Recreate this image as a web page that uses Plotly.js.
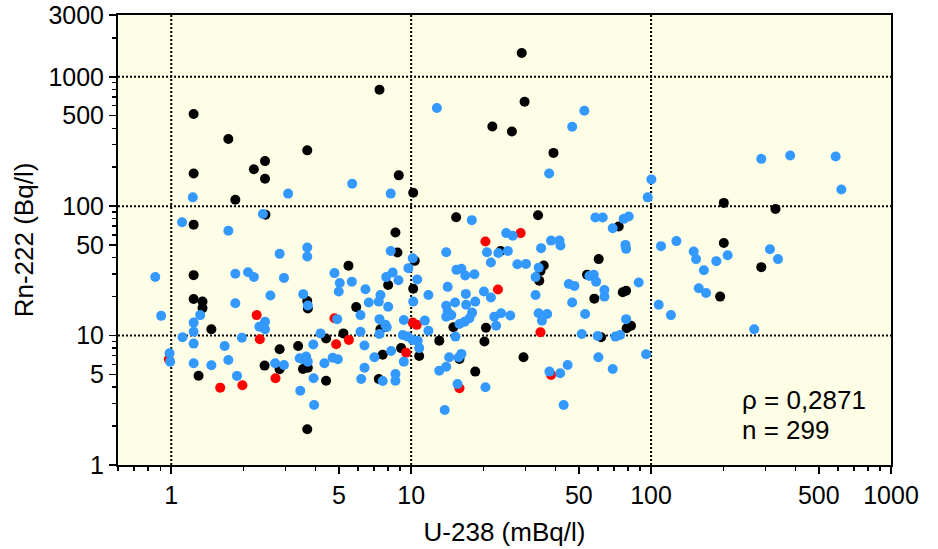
<!DOCTYPE html>
<html>
<head>
<meta charset="utf-8">
<script src="https://cdn.plot.ly/plotly-3.0.1.min.js"></script>
<style>
  html, body { margin: 0; padding: 0; background: #ffffff; }
  #chart { width: 938px; height: 549px; }
</style>
</head>
<body>
<div id="chart"></div>
<script>
// U-238 (mBq/l) vs Rn-222 (Bq/l), three groups of samples
const blackU238 = [1.24,1.73,3.69,2.46,2.21,1.24,2.46,28.9,7.38,29.7,21.8,26.3,39.2,8.88,10.2,
  1.85,2.47,1.24,1.24,1.24,
  15.4,8.6,8.77,10.35,5.48,8.02,10.2,
  33.8,73.3,23.6,60.5,35.7,34.6,34.2,54.1,76.2,78.7,58,
  201,330,201,288,194,
  1.35,1.35,3.69,3.71,1.47,2.83,3.38,2.45,2.83,3.54,3.71,1.3,
  5.9,7.45,15,4.42,5.22,9.08,10.8,7.61,13.1,15.9,18.5,4.42,7.33,
  20.5,82.5,79.1,20.2,61.9,29.4,
  3.69];
const blackRn222 = [515,330,270,223,193,179,163,1525,793,641,413,378,258,173,127,
  112,86,72,29.3,19.2,
  82,62.5,43.8,37.8,34.6,24.6,23,
  85,69.6,45.1,39,34.8,31.6,26.5,29.5,21.6,22.2,19.3,
  106,95,52,33.8,20,
  18.3,16.3,18.5,16.2,11.2,7.85,8.3,5.86,5.5,5.52,5.65,4.9,
  16.6,11.2,11.6,9.5,10.4,8.0,6.96,7.1,9.14,6.6,5.27,4.48,4.62,
  11.5,11.9,11.4,9.0,9.7,6.8,
  1.89];

const redU238 = [20.4,28.6,23,2.27,2.34,0.977,2.72,1.6,1.98,4.79,10.15,10.55,5.5,4.87,9.53,15.9,34.6,38.3];
const redRn222 = [53.3,61.9,22.7,14.4,9.37,6.57,4.68,3.96,4.13,13.6,12.6,12.1,9.26,8.58,7.38,3.92,10.6,4.97];

const blueU238 = [3.07,12.8,52.7,46.9,37.6,5.68,8.22,288,380,588,621,100.3,
  1.23,2.41,1.11,1.73,2.83,3.69,3.69,0.858,1.85,2.09,2.21,2.95,2.59,3.55,
  17.9,8.22,14.0,10.15,9.74,4.79,8.38,7.87,15.45,16.2,16.8,18.35,10.6,5.04,5.66,8.85,14.2,6.45,4.99,7.45,11.8,16.9,20.1,
  96.8,58.6,62.9,76.9,80.7,69.2,24.9,26.5,38.3,41.5,41.9,78.2,78.7,20.7,23.1,25.3,34.8,21.5,27.7,30.1,34.0,33,55.3,57.7,59.0,88.8,45.4,47.9,21.5,33,63.9,63.9,
  110,127.5,150.5,154,166,187,208.5,313,338,158,169.5,
  1.85,3.71,0.908,1.32,1.24,1.24,2.33,2.46,2.46,1.115,1.24,1.97,1.67,3.91,0.984,0.99,1.24,1.73,1.47,2.71,2.95,3.43,3.65,3.71,3.54,3.92,1.88,3.45,3.94,
  6.66,7.33,8.02,10.2,14.0,15.25,16.95,18.5,14.2,14.0,14.7,16.7,15.9,17.95,17.5,
  4.92,6.15,6.15,7.38,7.81,7.91,7.38,9.32,11.4,11.8,15.3,
  4.19,6.39,9.23,9.68,10.15,10.65,10.8,9.32,8.25,7.03,16.2,15.8,14.4,4.35,4.71,4.95,6.39,13.1,14.0,6.19,7.61,8.6,8.6,15.6,13.8,
  46.9,22.2,23.7,25.9,22.6,34.0,36.9,35.1,53.1,78.7,51.4,59.9,71.0,74.3,60.3,95.3,44.9,37.7,41.8,69.2,20.4,43.2,
  107.6,121,269];
const blueRn222 = [125,573,546,411,179,149,125,232,246,242,134.5,161,
  117,87,75,64.5,42.8,47.9,40.8,28.4,30,30.9,28.4,27.9,20.4,20.9,
  78,45.1,44.1,39.6,33.2,30.4,30.7,28.3,32.2,32.8,29.1,29.8,27.1,25.5,26.1,26.8,23.8,22.8,21.9,20.6,20.6,21.0,21.9,
  117,81.7,81.7,79.8,83.2,67.6,61.9,59,54.2,54.2,49.6,50.2,46.8,44.1,43.4,45.1,47.4,36.7,35.6,35.8,33.5,28.3,28.9,29.5,26.1,25.7,25,24.2,19.7,20.6,22.5,20.0,
  49.1,53.7,44.6,39,32,37.6,41.8,46.5,39,23.2,21.3,
  17.8,17.1,14.2,14.4,12.6,10.7,11.7,12.8,11.2,9.7,8.67,9.64,8.32,8.52,7.31,6.29,6.11,6.48,5.9,6.11,5.93,6.68,6.88,6.29,6.57,4.68,4.88,3.75,2.91,
  18.0,18.3,16.7,18.3,17.0,18.0,17.3,18.3,15.3,14.0,14.4,12.8,12.3,15.05,13.6,
  13.4,14.4,10.7,13.4,12.1,11.6,10.3,13.2,13.05,10.9,9.82,
  10.4,8.37,10.1,9.82,9.26,9.14,8.0,6.29,7.61,6.8,7.22,6.8,6.8,6.11,6.75,6.57,5.65,5.36,5.75,4.62,4.46,5.05,4.48,4.23,2.66,
  18.0,14.0,14.9,14.3,11.9,14.9,14.7,13.05,14.7,13.4,10.3,9.94,9.82,10.1,6.8,7.18,5.93,5.27,5.12,5.52,3.99,2.91,
  17.3,14.4,11.2];

// Axis ticks
const xTickVals = [1, 5, 10, 50, 100, 500, 1000];
const xTickText = ['1', '5', '10', '50', '100', '500', '1000'];
const xMinorVals = [0.6,0.7,0.8,0.9,2,3,4,6,7,8,9,20,30,40,60,70,80,90,200,300,400,600,700,800,900];
const xGridVals = [1, 10, 100];

const yTickVals = [1, 5, 10, 50, 100, 500, 1000, 3000];
const yTickText = ['1', '5', '10', '50', '100', '500', '1000', '3000'];
const yMinorVals = [2,3,4,6,7,8,9,20,30,40,60,70,80,90,200,300,400,600,700,800,900,2000];
const yGridVals = [10, 100, 1000];

const statsLines = ['ρ = 0,2871', 'n = 299'];

const FONT = 'Liberation Sans, Arial, Helvetica, sans-serif';
const xRange = [Math.log10(0.6), 3];
const yRange = [0, Math.log10(3000)];

function group(x, y, color) {
  return {
    type: 'scatter', mode: 'markers', x: x, y: y,
    marker: { color: color, size: 10, line: { width: 0 } },
    hoverinfo: 'x+y'
  };
}

const data = [
  group(blackU238, blackRn222, '#000000'),
  group(redU238, redRn222, '#ff0000'),
  group(blueU238, blueRn222, '#3399ff')
];

const tickCommon = {
  ticks: 'outside', tickcolor: '#000', tickwidth: 1.5,
  showline: true, linecolor: '#000', linewidth: 2, mirror: true,
  showgrid: false, zeroline: false,
  tickfont: { family: FONT, size: 25, color: '#000' }
};

// Dotted decade grid lines, placed in data units on the log axes
const gridLine = { color: '#000', width: 2, dash: '2px,2px' };
const gridShapes = [];
xGridVals.forEach(v => gridShapes.push({
  type: 'line', layer: 'below', xref: 'x', yref: 'paper',
  x0: v, x1: v, y0: 0, y1: 1, line: gridLine
}));
yGridVals.forEach(v => gridShapes.push({
  type: 'line', layer: 'below', xref: 'paper', yref: 'y',
  x0: 0, x1: 1, y0: v, y1: v, line: gridLine
}));

const layout = {
  width: 938, height: 549,
  margin: { l: 118, r: 47, t: 15, b: 84 },
  paper_bgcolor: '#ffffff',
  plot_bgcolor: '#fefde6',
  showlegend: false,
  font: { family: FONT, color: '#000' },
  xaxis: Object.assign({}, tickCommon, {
    type: 'log', range: xRange,
    tickmode: 'array', tickvals: xTickVals, ticktext: xTickText, ticklen: 7,
    minor: { tickmode: 'array', tickvals: xMinorVals, ticks: 'outside', ticklen: 4, tickwidth: 1.5, tickcolor: '#000', showgrid: false },
    title: { text: 'U-238 (mBq/l)', standoff: 15, font: { family: FONT, size: 26, color: '#000' } }
  }),
  yaxis: Object.assign({}, tickCommon, {
    type: 'log', range: yRange,
    tickmode: 'array', tickvals: yTickVals, ticktext: yTickText, ticklen: 7,
    minor: { tickmode: 'array', tickvals: yMinorVals, ticks: 'outside', ticklen: 4, tickwidth: 1.5, tickcolor: '#000', showgrid: false },
    title: { text: 'Rn-222 (Bq/l)', standoff: 7, font: { family: FONT, size: 26, color: '#000' } }
  }),
  shapes: gridShapes,
  annotations: [
    { xref: 'paper', yref: 'paper', x: 0.805, y: 0.1444, xanchor: 'left', yanchor: 'middle',
      text: statsLines[0], showarrow: false, font: { family: FONT, size: 26, color: '#000' } },
    { xref: 'paper', yref: 'paper', x: 0.805, y: 0.0778, xanchor: 'left', yanchor: 'middle',
      text: statsLines[1], showarrow: false, font: { family: FONT, size: 26, color: '#000' } }
  ]
};

Plotly.newPlot('chart', data, layout, { staticPlot: true, displayModeBar: false });
</script>
</body>
</html>
